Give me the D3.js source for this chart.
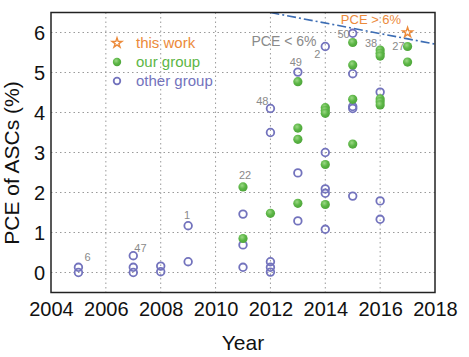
<!DOCTYPE html>
<html><head><meta charset="utf-8">
<script src="https://cdn.jsdelivr.net/npm/d3@7"></script>
<style>body{margin:0;background:#fff;} svg{display:block;font-family:Arial,"Liberation Sans",Helvetica,sans-serif;}</style>
</head><body>
<svg id="c" width="469" height="357"></svg>
<script>
// ---- data ----
const xTicks = [2004, 2006, 2008, 2010, 2012, 2014, 2016, 2018];
const yTicks = [0, 1, 2, 3, 4, 5, 6];
const otherYear = [2005,2005, 2007,2007,2007, 2008,2008, 2009,2009, 2011,2011,2011,
  2012,2012,2012,2012,2012, 2013,2013,2013, 2014,2014,2014,2014,2014,
  2015,2015,2015,2015,2015, 2016,2016,2016];
const otherPCE = [0.13,0.0, 0.42,0.13,0.0, 0.16,0.02, 1.17,0.27, 1.46,0.69,0.13,
  4.10,3.50,0.27,0.13,0.01, 5.01,2.49,1.29, 5.65,3.00,2.09,1.98,1.08,
  5.98,4.97,4.15,4.10,1.91, 4.51,1.79,1.33];
const ourYear = [2011,2011, 2012, 2013,2013,2013,2013, 2014,2014,2014,2014,2014,
  2015,2015,2015,2015, 2016,2016,2016,2016,2016,2016, 2017,2017];
const ourPCE = [2.14,0.85, 1.48, 4.77,3.61,3.33,1.73, 4.12,4.05,3.98,2.70,1.70,
  5.75,5.19,4.33,3.21, 5.56,5.48,5.41,4.34,4.27,4.19, 5.65,5.26];
const thisYear = [2017];
const thisPCE = [6.0];
const refText = ["6","47","1","22","48","49","2","50","38","27"];
const refYear = [2005,2007,2009,2011,2012,2013,2014,2015,2016,2017];
const refPCE  = [0.13,0.42,1.17,2.14,4.10,5.01,5.65,5.98,5.56,5.65];
const boundaryYear = [2012, 2018];
const boundaryPCE = [6.5, 5.71];
const legendNames = ["this work","our group","other group"];

// ---- styles / layout ----
const refStyle = [
  {dx:6, dy:-6, a:"start"}, {dx:1, dy:-4, a:"start"}, {dx:-1, dy:-7, a:"middle"},
  {dx:2, dy:-8, a:"middle"}, {dx:-2, dy:-4, a:"end"}, {dx:-2, dy:-6, a:"middle"},
  {dx:-5, dy:11, a:"end"}, {dx:-3, dy:5, a:"end"}, {dx:-3, dy:-3, a:"end"}, {dx:-3, dy:3, a:"end"}
];
const C = {orange:"#ec8a3a", green:"#5cb646", purple:"#7373bd", grey:"#8a8a8a", line:"#3c6db4"};
const L = 51, R = 435, T = 12.5, B = 292.5;
const svg = d3.select("#c");
const x = d3.scaleLinear().domain([2004, 2018]).range([L, R]);
const y = d3.scaleLinear().domain([-0.5, 6.5]).range([B, T]);

const defs = svg.append("defs");
const rg = defs.append("radialGradient").attr("id","gg").attr("cx","40%").attr("cy","35%").attr("r","65%");
rg.append("stop").attr("offset","0%").attr("stop-color","#9bd884");
rg.append("stop").attr("offset","55%").attr("stop-color",C.green);
rg.append("stop").attr("offset","100%").attr("stop-color","#4ea53a");
defs.append("clipPath").attr("id","clip").append("rect").attr("x",L).attr("y",T).attr("width",R-L).attr("height",B-T);

// grid
const g = svg.append("g");
g.selectAll(".vg").data(xTicks.filter(d=>d>2004&&d<2018)).join("line")
  .attr("x1",d=>x(d)).attr("x2",d=>x(d)).attr("y1",T).attr("y2",B)
  .attr("stroke","#9a9a9a").attr("stroke-width",1).attr("stroke-dasharray","1.5,3");
g.selectAll(".hg").data(yTicks).join("line")
  .attr("x1",L).attr("x2",R).attr("y1",d=>y(d)).attr("y2",d=>y(d))
  .attr("stroke","#9a9a9a").attr("stroke-width",1).attr("stroke-dasharray","1.5,3");

// axes (labels only, ticks hidden)
const xa = svg.append("g").attr("transform",`translate(0,${B})`)
  .call(d3.axisBottom(x).tickValues(xTicks).tickFormat(d3.format("d")).tickSize(0).tickPadding(9));
const ya = svg.append("g").attr("transform",`translate(${L},0)`)
  .call(d3.axisLeft(y).tickValues(yTicks).tickFormat(d3.format("d")).tickSize(0).tickPadding(6));
[xa,ya].forEach(a=>{a.select(".domain").remove(); a.selectAll("text").attr("font-size",20).attr("fill","#111").attr("font-family","Arial, 'Liberation Sans', sans-serif");});
ya.selectAll("text").attr("dy","0.36em");

// boundary line
svg.append("line").attr("clip-path","url(#clip)")
  .attr("x1",x(boundaryYear[0])).attr("y1",y(boundaryPCE[0]))
  .attr("x2",x(boundaryYear[1])).attr("y2",y(boundaryPCE[1]))
  .attr("stroke",C.line).attr("stroke-width",1.6).attr("stroke-dasharray","9,3,2,3");

// frame
svg.append("rect").attr("x",L).attr("y",T).attr("width",R-L).attr("height",B-T)
  .attr("fill","none").attr("stroke","#222").attr("stroke-width",1.5);

// other group
svg.append("g").selectAll("circle").data(otherYear.map((d,i)=>[d,otherPCE[i]])).join("circle")
  .attr("cx",d=>x(d[0])).attr("cy",d=>y(d[1])).attr("r",3.8)
  .attr("fill","#fff").attr("fill-opacity",0).attr("stroke",C.purple).attr("stroke-width",1.8);
// our group
svg.append("g").selectAll("circle").data(ourYear.map((d,i)=>[d,ourPCE[i]])).join("circle")
  .attr("cx",d=>x(d[0])).attr("cy",d=>y(d[1])).attr("r",4.6).attr("fill","url(#gg)");
// this work
const star = d3.symbol().type(d3.symbolStar).size(30);
svg.append("g").selectAll("path").data(thisYear.map((d,i)=>[d,thisPCE[i]])).join("path")
  .attr("d",star).attr("transform",d=>`translate(${x(d[0])},${y(d[1])})`)
  .attr("fill","#fff").attr("stroke",C.orange).attr("stroke-width",1.4);

// reference labels
svg.append("g").selectAll("text").data(refText).join("text")
  .attr("x",(d,i)=>x(refYear[i])+refStyle[i].dx).attr("y",(d,i)=>y(refPCE[i])+refStyle[i].dy)
  .attr("text-anchor",(d,i)=>refStyle[i].a).attr("font-size",11).attr("fill",C.grey).text(d=>d);

// annotations
svg.append("text").attr("x",371).attr("y",23.5).attr("text-anchor","middle").attr("font-size",13)
  .attr("fill",C.orange).text("PCE > 6%");
svg.append("text").attr("x",284).attr("y",46).attr("text-anchor","middle").attr("font-size",14)
  .attr("fill",C.grey).text("PCE < 6%");

// legend
const lg = svg.append("g");
const ly = [43, 62, 81];
lg.append("path").attr("d",star).attr("transform",`translate(117,${ly[0]})`)
  .attr("fill","#fff").attr("stroke",C.orange).attr("stroke-width",1.4);
lg.append("circle").attr("cx",117).attr("cy",ly[1]).attr("r",4.2).attr("fill","url(#gg)");
lg.append("circle").attr("cx",117).attr("cy",ly[2]).attr("r",3.3).attr("fill","none").attr("stroke",C.purple).attr("stroke-width",1.8);
lg.selectAll("text").data(legendNames).join("text")
  .attr("x",136).attr("y",(d,i)=>ly[i]).attr("dy","0.36em").attr("font-size",15)
  .attr("fill",(d,i)=>[C.orange,C.green,C.purple][i]).text(d=>d);

// axis titles
svg.append("text").attr("x",(L+R)/2).attr("y",350).attr("text-anchor","middle")
  .attr("font-size",21).attr("fill","#111").text("Year");
svg.append("text").attr("transform","translate(19,163) rotate(-90)").attr("text-anchor","middle")
  .attr("font-size",21).attr("fill","#111").text("PCE of ASCs (%)");
</script>
</body></html>
